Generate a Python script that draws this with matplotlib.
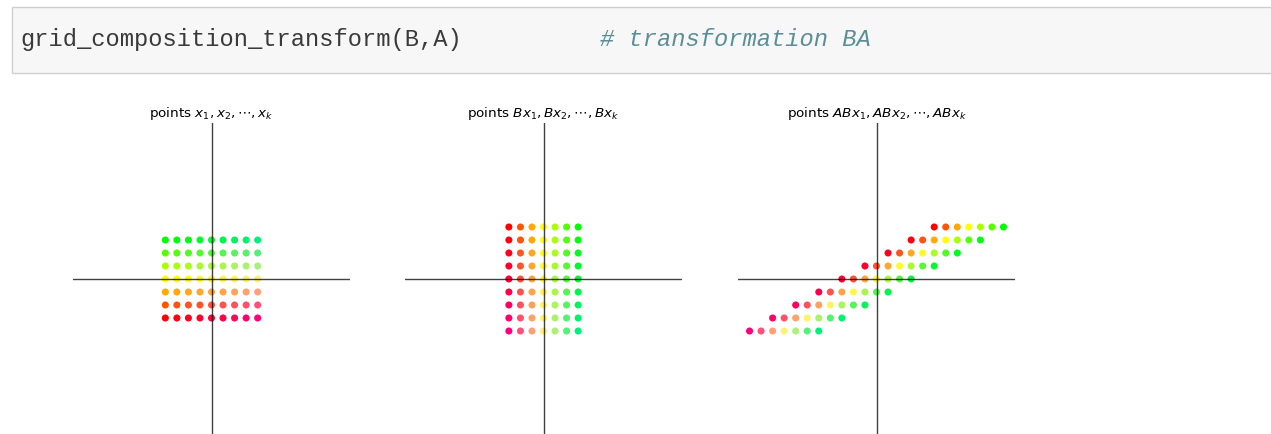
import numpy as np
import matplotlib
matplotlib.use("Agg")
import matplotlib.pyplot as plt
from matplotlib.patches import Rectangle

# grid of input points
grid_x = [-4, -3, -2, -1, 0, 1, 2, 3, 4]
grid_y = [-3, -2, -1, 0, 1, 2, 3]

# linear transformations
B = [[0, 1],
     [-1, 0]]
A = [[1, 2],
     [0, 1]]

titles = [r'points $x_1,x_2,\cdots,x_k$',
          r'points $Bx_1,Bx_2,\cdots,Bx_k$',
          r'points $ABx_1,ABx_2,\cdots,ABx_k$']

code_line = "grid_composition_transform(B,A)"
code_comment = "# transformation BA"

W, H = 1271, 434
DPI = 100


def fx(px):
    return px / W


def fy(py):
    return 1 - py / H


# build grid points and their colours (hue along y, blue tint along x)
gx, gy = np.meshgrid(np.array(grid_x, float), np.array(grid_y, float))
pts = np.vstack([gx.ravel(), gy.ravel()])
t = (pts[1] - min(grid_y)) / (max(grid_y) - min(grid_y))
s = (pts[0] - min(grid_x)) / (max(grid_x) - min(grid_x))
colors = np.stack([np.clip(2 * (1 - t), 0, 1),
                   np.clip(2 * t, 0, 1) * (1 - 0.06 * s),
                   0.48 * s], axis=1)

Bm = np.array(B, float)
Am = np.array(A, float)
sets = [pts, Bm @ pts, Am @ (Bm @ pts)]

fig = plt.figure(figsize=(W / DPI, H / DPI), dpi=DPI)
fig.patch.set_facecolor('white')

# code cell
fig.patches.append(Rectangle((fx(11.5), fy(72.5)), fx(1300) - fx(11.5), fy(7.5) - fy(72.5),
                             transform=fig.transFigure, facecolor='#f7f7f7',
                             edgecolor='#cfcfcf', linewidth=1.0, zorder=0))
fig.text(fx(20.5), fy(46), code_line, family='Liberation Mono', fontsize=17.1,
         color='#3a3a3a', va='baseline', ha='left')
fig.text(fx(600), fy(46), code_comment, family='Liberation Mono', fontsize=17.1,
         color='#5a8f98', style='italic', va='baseline', ha='left')

lefts = [73, 405, 738]
for left, P, title in zip(lefts, sets, titles):
    ax = fig.add_axes([fx(left), fy(435), fx(277), 312 / H])
    ax.scatter(P[0], P[1], s=26, c=colors, linewidths=0, zorder=2)
    ax.axhline(0, color='k', linewidth=1.0, alpha=0.75, zorder=3)
    ax.axvline(0, color='k', linewidth=1.0, alpha=0.75, zorder=3)
    ax.set_xlim(-12, 12)
    ax.set_ylim(-12, 12)
    ax.axis('off')
    ax.set_title(title, fontsize=9.7, pad=4.5)

fig.savefig('out.png', dpi=DPI)
